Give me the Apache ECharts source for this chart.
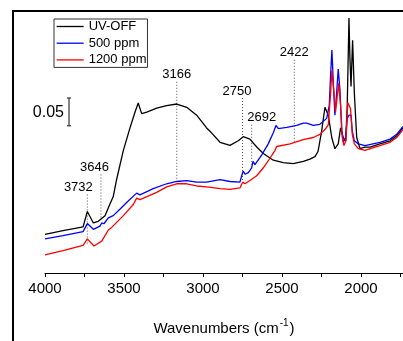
<!DOCTYPE html>
<html>
<head>
<meta charset="utf-8">
<script src="https://cdn.jsdelivr.net/npm/echarts@6/dist/echarts.min.js"></script>
<style>html,body{margin:0;padding:0;background:#fff;}#c{width:403px;height:341px;}</style>
</head>
<body>
<div id="c"></div>
<script>
// ---- data ----
const seriesNames = ['UV-OFF', '500 ppm', '1200 ppm'];
const uvOffWn = [4000,3886,3759,3732,3694,3663,3620,3599,3568,3546,3504,3462,3430,3410,3388,3356,3293,3230,3166,3103,3040,2977,2956,2892,2829,2777,2745,2703,2660,2618,2555,2492,2429,2365,2323,2291,2272,2249,2228,2207,2185,2165,2144,2129,2112,2097,2087,2076,2070,2063,2053,2042,2027,2006,1975,1943,1880,1816,1774,1734];
const uvOffAbs = [0.0698,0.0764,0.0833,0.1109,0.0902,0.0931,0.1034,0.1178,0.1379,0.1695,0.2212,0.2616,0.2902,0.3064,0.2874,0.2902,0.2971,0.3017,0.3047,0.2988,0.2845,0.2616,0.2557,0.2357,0.2302,0.2384,0.2457,0.2414,0.2271,0.2155,0.2034,0.1991,0.1971,0.2012,0.2052,0.2098,0.219,0.2557,0.2988,0.2845,0.2443,0.2241,0.2328,0.2616,0.2443,0.2384,0.3017,0.4598,0.3879,0.3362,0.4195,0.3247,0.2443,0.2241,0.2271,0.2271,0.2328,0.2384,0.2471,0.2616];
const ppm500Wn = [4000,3886,3759,3732,3694,3652,3641,3627,3599,3568,3526,3475,3420,3399,3315,3230,3166,3103,3040,2977,2892,2829,2766,2755,2745,2734,2713,2692,2683,2671,2629,2587,2555,2538,2523,2470,2407,2365,2344,2302,2260,2217,2201,2192,2184,2175,2165,2154,2144,2133,2122,2112,2097,2087,2076,2063,2055,2042,2017,1975,1880,1816,1774,1734];
const ppm500Abs = [0.0616,0.0672,0.0747,0.0891,0.0788,0.0845,0.0902,0.0888,0.0995,0.1034,0.115,0.1293,0.144,0.1409,0.1522,0.1609,0.165,0.1667,0.1638,0.1638,0.1684,0.165,0.1638,0.1753,0.184,0.1781,0.181,0.1897,0.2012,0.1953,0.2126,0.2328,0.2529,0.266,0.2603,0.2626,0.266,0.2702,0.2702,0.266,0.2681,0.2788,0.3017,0.3591,0.4022,0.3419,0.2845,0.3247,0.3678,0.3305,0.2557,0.2357,0.2443,0.2788,0.2845,0.2845,0.2557,0.2384,0.2328,0.2298,0.2357,0.2414,0.25,0.2643];
const ppm1200Wn = [4000,3886,3759,3732,3690,3641,3599,3578,3504,3441,3420,3399,3293,3230,3166,3103,3040,2977,2892,2829,2766,2749,2734,2703,2660,2618,2576,2544,2534,2523,2449,2365,2302,2260,2228,2207,2192,2184,2171,2161,2150,2141,2129,2118,2108,2095,2084,2076,2066,2055,2042,2017,1975,1880,1816,1774,1734];
const ppm1200Abs = [0.0328,0.0402,0.05,0.0616,0.0488,0.0574,0.0776,0.0822,0.1034,0.1236,0.135,0.1322,0.1453,0.1552,0.1609,0.1609,0.1569,0.1552,0.1522,0.1509,0.1534,0.1638,0.1609,0.1667,0.1753,0.1897,0.2069,0.2212,0.2281,0.2259,0.2328,0.2405,0.2443,0.25,0.2586,0.2672,0.3247,0.365,0.3247,0.2902,0.319,0.3419,0.3017,0.2443,0.2298,0.2384,0.3074,0.3103,0.296,0.25,0.2328,0.2241,0.2212,0.2298,0.2357,0.2443,0.2586];
const peakLabels = [3732, 3646, 3166, 2750, 2692, 2422];
const xTickValues = [4000,3750,3500,3250,3000,2750,2500,2250,2000,1750];
const xLabelValues = [4000,3500,3000,2500,2000];
const scaleBarValue = 0.05;

// ---- layout (not data) ----
const peakLineTop = [0.1414, 0.1776, 0.3448, 0.3155, 0.2672, 0.3845];
const peakLineBottom = [0.05, 0.0966, 0.1672, 0.1621, 0.1948, 0.2362];
const peakLabelDx = [-9, -6.5, 0, -5.5, 10, 0];
const scaleBarAt = [3848, 0.2655];

const FONT = '"Liberation Sans", Arial, sans-serif';
const colors = ['#000000', '#0000ff', '#ff0000'];
const wnArr = [uvOffWn, ppm500Wn, ppm1200Wn];
const absArr = [uvOffAbs, ppm500Abs, ppm1200Abs];

const lineSeries = seriesNames.map((n, i) => ({
  name: n, type: 'line', symbol: 'none', smooth: false,
  data: wnArr[i].map((w, j) => [w, absArr[i][j]]),
  lineStyle: { color: colors[i], width: 1.3 },
  itemStyle: { color: colors[i] },
  z: 3
}));

const annotSeries = {
  type: 'custom', silent: true, clip: false, z: 2,
  data: peakLabels.map((p, i) => [p, peakLineTop[i], peakLineBottom[i], peakLabelDx[i]]),
  renderItem(params, api) {
    const top = api.coord([api.value(0), api.value(1)]);
    const bot = api.coord([api.value(0), api.value(2)]);
    return { type: 'group', children: [
      { type: 'line', shape: { x1: top[0], y1: top[1], x2: bot[0], y2: bot[1] },
        style: { stroke: '#555', lineWidth: 1, lineDash: [1, 2] } },
      { type: 'text', x: top[0] + api.value(3), y: top[1] - 7,
        style: { text: String(api.value(0)), align: 'center', verticalAlign: 'middle',
                 font: '13px ' + FONT, fill: '#000' } }
    ]};
  }
};

const scaleSeries = {
  type: 'custom', silent: true, clip: false, z: 2,
  data: [[scaleBarAt[0], scaleBarAt[1], scaleBarValue]],
  renderItem(params, api) {
    const bot = api.coord([api.value(0), api.value(1)]);
    const top = api.coord([api.value(0), api.value(1) + api.value(2)]);
    const st = { stroke: '#333', lineWidth: 1.2 };
    return { type: 'group', children: [
      { type: 'line', shape: { x1: top[0], y1: top[1], x2: bot[0], y2: bot[1] }, style: st },
      { type: 'line', shape: { x1: top[0] - 2, y1: top[1], x2: top[0] + 2, y2: top[1] }, style: st },
      { type: 'line', shape: { x1: bot[0] - 2, y1: bot[1], x2: bot[0] + 2, y2: bot[1] }, style: st },
      { type: 'text', x: top[0] - 5, y: (top[1] + bot[1]) / 2 + 1,
        style: { text: String(api.value(2)), align: 'right', verticalAlign: 'middle',
                 font: '16px ' + FONT, fill: '#000' } }
    ]};
  }
};

const chart = echarts.init(document.getElementById('c'), null, { renderer: 'canvas' });
chart.setOption({
  animation: false,
  backgroundColor: '#fff',
  textStyle: { fontFamily: FONT },
  grid: { left: 45, right: 0, top: 11, bottom: 56 },
  legend: {
    data: seriesNames, orient: 'vertical', left: 54, top: 19,
    itemWidth: 27, itemHeight: 14, itemGap: 2.7,
    padding: [0.5, 1, 0.5, 2],
    borderColor: '#333', borderWidth: 1, backgroundColor: '#fff',
    itemStyle: { color: 'rgba(0,0,0,0)', borderColor: 'rgba(0,0,0,0)', borderWidth: 0, opacity: 0 },
    lineStyle: { width: 1.3 },
    textStyle: { fontSize: 13, color: '#000', lineHeight: 14, fontFamily: FONT },
    selectedMode: false
  },
  xAxis: {
    type: 'value', inverse: true, min: 1734, max: 4000,
    axisLine: { show: true, onZero: false, lineStyle: { color: '#000', width: 1 } },
    axisTick: { show: true, length: 4, customValues: xTickValues, lineStyle: { color: '#000' } },
    axisLabel: { customValues: xLabelValues, formatter: v => String(v), fontSize: 15, color: '#000', margin: 8, fontFamily: FONT },
    splitLine: { show: false },
    name: '{a|Wavenumbers (cm}{s|-1}{a|)}',
    nameLocation: 'middle', nameGap: 45,
    nameTextStyle: {
      rich: {
        a: { fontSize: 15, color: '#000', fontFamily: FONT, lineHeight: 18, verticalAlign: 'bottom' },
        s: { fontSize: 10, color: '#000', fontFamily: FONT, lineHeight: 18, verticalAlign: 'top', padding: [0, 1, 6, 1] }
      }
    }
  },
  yAxis: { type: 'value', min: 0, max: 0.4724, show: false },
  series: [...lineSeries, annotSeries, scaleSeries],
  graphic: [{
    type: 'polyline', silent: true, z: 100,
    shape: { points: [[13, 345], [13, 11], [410, 11]] },
    style: { stroke: '#000', lineWidth: 2, fill: null }
  }]
});
</script>
</body>
</html>
